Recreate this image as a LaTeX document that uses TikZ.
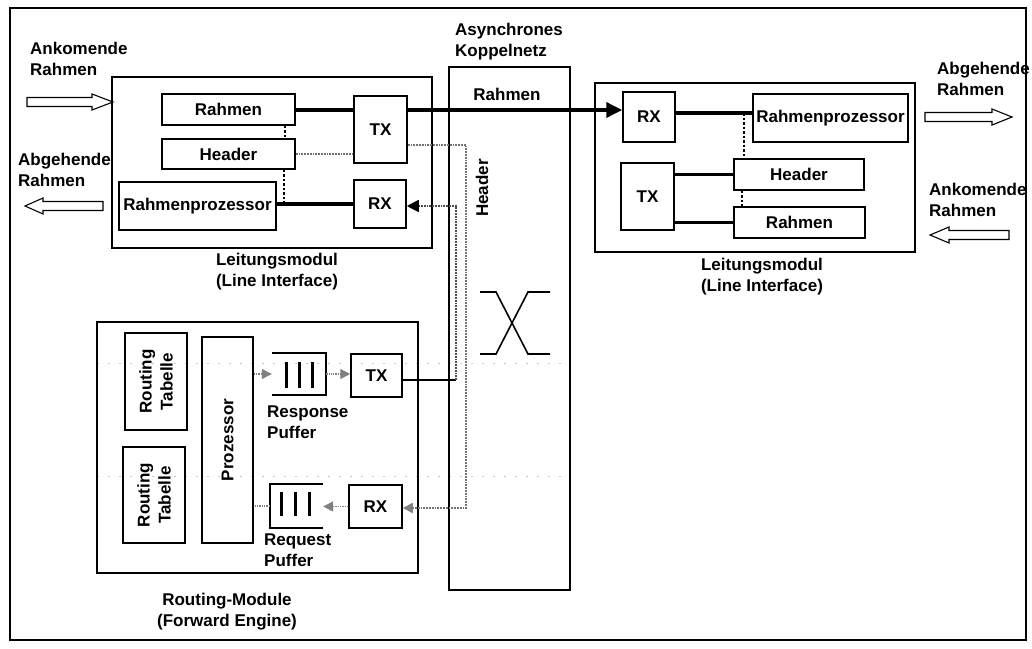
\documentclass[tikz,border=0pt]{standalone}
\usepackage{fontspec}
\setmainfont{Liberation Sans}
\usetikzlibrary{arrows.meta}
\begin{document}
\begin{tikzpicture}[x=1pt,y=-1pt,
  every node/.style={font=\bfseries\fontsize{17}{21}\selectfont, inner sep=0pt},
  box/.style={draw, line width=1.5pt},
  thickln/.style={line width=3.5pt},
  gline/.style={draw=black!55, line width=1.8pt, densely dotted},
  gline2/.style={draw=black!50, line width=1.3pt, densely dotted},
  garr/.style={-{Triangle[length=10pt,width=10pt,color=black!50]}},
  dotln/.style={line width=2.5pt, dotted},
  lbl/.style={align=left, anchor=west},
  hollow/.style={draw, line width=1.1pt, fill=white},
  faint/.style={draw=gray!45, line width=0.6pt, dash pattern=on 2pt off 9pt}
]
\useasboundingbox (0,0) rectangle (1032,648);
\draw[line width=1.5pt] (10,8) rectangle (1026,640);

% faint scan lines
\draw[faint] (97,363) -- (570,363);
\draw[faint] (97,476) -- (570,476);

% left Leitungsmodul
\node[box, minimum width=320, minimum height=171] (LML) at (272,162.5) {};
\node[box, minimum width=133, minimum height=31] (RahL) at (228.5,109.5) {Rahmen};
\node[box, minimum width=133, minimum height=30] (HdrL) at (228.5,154) {Header};
\node[box, minimum width=157, minimum height=48] (RPL) at (197.5,206) {Rahmenprozessor};
\node[box, minimum width=53, minimum height=67] (TXL) at (380.5,129.5) {TX};
\node[box, minimum width=52, minimum height=48] (RXL) at (380,204) {RX};

% Koppelnetz
\node[box, minimum width=121, minimum height=523] (KN) at (509.5,328.5) {};
\node (KNr) at (507,94) {Rahmen};
\node[rotate=90] (KNh) at (482,188) {Header};
\node[lbl] (KNt) at (455,42) {Asynchrones\\Koppelnetz};
\draw[line width=1.6pt] (480,292) -- (496,292) -- (528,354) -- (550,354);
\draw[line width=1.6pt] (480,354) -- (496,354) -- (528,292) -- (550,292);

% right Leitungsmodul
\node[box, minimum width=320, minimum height=169] (LMR) at (755,167.5) {};
\node[box, minimum width=52, minimum height=50] (RXR) at (649,117) {RX};
\node[box, minimum width=155, minimum height=48] (RPR) at (830.5,118) {Rahmenprozessor};
\node[box, minimum width=53, minimum height=67] (TXR) at (647.5,196.5) {TX};
\node[box, minimum width=130, minimum height=31] (HdrR) at (799,174.5) {Header};
\node[box, minimum width=131, minimum height=31] (RahR) at (799.5,222.5) {Rahmen};

% Routing module
\node[box, minimum width=321, minimum height=251] (RM) at (257.5,447.5) {};
\node[box, rotate=90, minimum width=97, minimum height=62, align=center] (RT1) at (156,381.5) {Routing\\Tabelle};
\node[box, rotate=90, minimum width=96, minimum height=62, align=center] (RT2) at (154,495) {Routing\\Tabelle};
\node[box, rotate=90, minimum width=206, minimum height=51] (Proz) at (227.5,440) {Prozessor};
\node[minimum width=54, minimum height=42] (RespP) at (299,374) {};
\draw[line width=1.5pt] (RespP.north west) -- (RespP.north east) -- (RespP.south east) -- (RespP.south west);
\draw[line width=3pt] (286,362) -- (286,388) (299,362) -- (299,388) (312,362) -- (312,388);
\node[minimum width=53, minimum height=44] (ReqP) at (296.5,506) {};
\draw[line width=1.5pt] (ReqP.north east) -- (ReqP.north west) -- (ReqP.south west) -- (ReqP.south east);
\draw[line width=3pt] (281,492) -- (281,516) (295,492) -- (295,516) (309,492) -- (309,516);
\node[box, minimum width=51, minimum height=43] (TXr) at (376.5,375.5) {TX};
\node[box, minimum width=53, minimum height=43] (RXr) at (375.5,506.5) {RX};

% labels
\node[lbl] (lRP) at (267,422) {Response\\Puffer};
\node[lbl] (lQP) at (264,550) {Request\\Puffer};
\node[align=center] (lRM) at (227,612) {Routing-Module\\(Forward Engine)};
\node[align=center] (lLML) at (277,272) {Leitungsmodul\\(Line Interface)};
\node[align=center] (lLMR) at (762,277) {Leitungsmodul\\(Line Interface)};
\node[lbl] (lAnkL) at (30,59) {Ankomende\\Rahmen};
\node[lbl] (lAbgL) at (18,170) {Abgehende\\Rahmen};
\node[lbl] (lAbgR) at (937,79) {Abgehende\\Rahmen};
\node[lbl] (lAnkR) at (929,200) {Ankomende\\Rahmen};

% hollow arrows
\draw[hollow] (27,97.5) -- (92,97.5) -- (92,94) -- (113,102) -- (92,110) -- (92,106.5) -- (27,106.5) -- cycle;
\draw[hollow] (103,201.5) -- (43,201.5) -- (43,198) -- (25,206) -- (43,214) -- (43,210.5) -- (103,210.5) -- cycle;
\draw[hollow] (925,112.5) -- (992,112.5) -- (992,109) -- (1012,117) -- (992,125) -- (992,121.5) -- (925,121.5) -- cycle;
\draw[hollow] (1009,230.5) -- (949,230.5) -- (949,227) -- (930,235) -- (949,243) -- (949,239.5) -- (1009,239.5) -- cycle;

% connectors, left module
\coordinate (busY) at (0,110);
\coordinate (busR) at (0,113);
\draw[thickln] (RahL.east |- busY) -- (TXL.west |- busY);
\draw[thickln, -{Triangle[length=16pt,width=15pt]}] (TXL.east |- busY) -- (RXR.west |- busY);
\draw[dotln] ([xshift=56.5]RahL.south) -- ([xshift=56.5]HdrL.north);
\draw[dotln] ([xshift=55.5]HdrL.south) -- ([xshift=55.5]HdrL.south |- RXL.west);
\draw[thickln] (RPL.east |- RXL.west) -- (RXL.west);
\draw[gline] (HdrL.east) -- (HdrL.east -| TXL.west);

% connectors, right module
\coordinate (dR1) at (744,113);
\draw[thickln] (RXR.east |- busR) -- (RPR.west |- busR);
\draw[dotln] (dR1) -- (dR1 |- HdrR.north);
\draw[dotln] ([xshift=-57]HdrR.south) -- ([xshift=-57]HdrR.south |- RahR.north);
\draw[thickln] (TXR.east |- HdrR.west) -- (HdrR.west);
\draw[thickln] (TXR.east |- RahR.west) -- (RahR.west);

% through the switch
\coordinate (hA) at (466,145);
\coordinate (hB) at (466,508);
\draw[gline, garr] (TXL.east |- hA) -- (hA) -- (hB) -- (RXr.east |- hB);
\coordinate (rA) at (456,380);
\coordinate (rB) at (456,206);
\draw[line width=1.8pt] (TXr.east |- rA) -- (rA);
\draw[line width=1.8pt, black!70, densely dotted, -{Triangle[length=12pt,width=12pt,color=black]}] (rA) -- (rB) -- (RXL.east |- rB);

% routing module connectors
\draw[gline2, garr] (Proz.south |- RespP.west) -- (RespP.west);
\draw[gline2, garr] (RespP.east) -- (TXr.west |- RespP.east);
\draw[gline2, garr] (RXr.west) -- (ReqP.east |- RXr.west);
\draw[gline2] (ReqP.west) -- (Proz.south |- ReqP.west);
\end{tikzpicture}
\end{document}
